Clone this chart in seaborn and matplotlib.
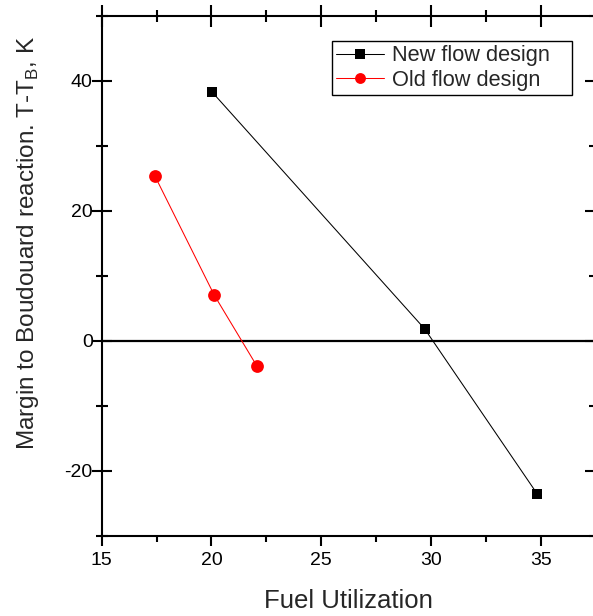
import matplotlib
matplotlib.use("Agg")
import matplotlib.pyplot as plt
import seaborn as sns
import pandas as pd
from matplotlib.ticker import MultipleLocator

new_x = [20.02, 29.72, 34.85]
new_y = [38.3, 1.8, -23.6]
old_x = [17.43, 20.13, 22.08]
old_y = [25.3, 7.0, -3.95]
x_ticks = [15, 20, 25, 30, 35]
y_ticks = [-20, 0, 20, 40]

sns.set_theme(style="ticks")
plt.rcParams['font.family'] = ['Liberation Sans', 'DejaVu Sans']
plt.rcParams['axes.unicode_minus'] = False
plt.rcParams['mathtext.fontset'] = 'custom'
plt.rcParams['mathtext.rm'] = 'Liberation Sans'

df_new = pd.DataFrame({"x": new_x, "y": new_y})
df_old = pd.DataFrame({"x": old_x, "y": old_y})

fig = plt.figure(figsize=(5.93, 6.16), dpi=100)
ax = fig.add_axes([0.1715, 0.1304, 0.8327, 0.8441])

ax.axhline(0, color="black", lw=1.6, zorder=1)
sns.lineplot(data=df_new, x="x", y="y", ax=ax, color="black", lw=0.75,
             marker="s", markersize=7.8, markeredgewidth=0, label="New flow design",
             sort=False, zorder=3)
sns.lineplot(data=df_old, x="x", y="y", ax=ax, color="red", lw=0.75,
             marker="o", markersize=9.2, markeredgewidth=0, label="Old flow design",
             sort=False, zorder=3)

ax.set_xlim(15, 37.5)
ax.set_ylim(-30, 50)
ax.set_xticks(x_ticks)
ax.set_yticks(y_ticks)
ax.xaxis.set_minor_locator(MultipleLocator(2.5))
ax.yaxis.set_minor_locator(MultipleLocator(10))
ax.tick_params(axis="y", which="both", direction="inout", left=True, right=True,
               labelsize=14, width=1.5, colors="black")
ax.tick_params(axis="y", which="major", length=15, pad=-1)
ax.tick_params(axis="y", which="minor", length=9)
ax.tick_params(axis="x", which="both", direction="out", bottom=True, top=False,
               labelsize=14, width=1.5, colors="black", pad=4)
ax.tick_params(axis="x", which="major", length=7.5)
ax.tick_params(axis="x", which="minor", length=4)

sec = ax.secondary_xaxis("top")
sec.set_xticks(x_ticks)
sec.xaxis.set_minor_locator(MultipleLocator(2.5))
sec.tick_params(which="both", direction="inout", labeltop=False, width=1.5, colors="black")
sec.tick_params(which="major", length=16)
sec.tick_params(which="minor", length=9)
for name, s in sec.spines.items():
    s.set_visible(name == "top")
sec.spines["top"].set_linewidth(1.5)
sec.spines["top"].set_color("black")
for s in ax.spines.values():
    s.set_linewidth(1.5)
    s.set_color("black")
ax.spines["right"].set_visible(False)
ax.spines["top"].set_visible(False)

ax.set_xlabel("Fuel Utilization", fontsize=18.5, labelpad=15)
ax.set_ylabel(r"Margin to Boudouard reaction. T-T$_\mathregular{B}$, K", fontsize=17.5)
ax.yaxis.set_label_coords(-0.123, 0.563)

leg = ax.legend(loc="upper left", bbox_to_anchor=(0.4664, 0.9513, 0.486, 0.0),
                mode="expand", borderaxespad=0,
                fontsize=15.7, frameon=True, fancybox=False, edgecolor="black", framealpha=1,
                handlelength=2.2, borderpad=0.2, labelspacing=0.15, handletextpad=0.35,
                markerscale=0.85)
leg.get_frame().set_linewidth(1.0)

fig.savefig("out.png", dpi=100)
